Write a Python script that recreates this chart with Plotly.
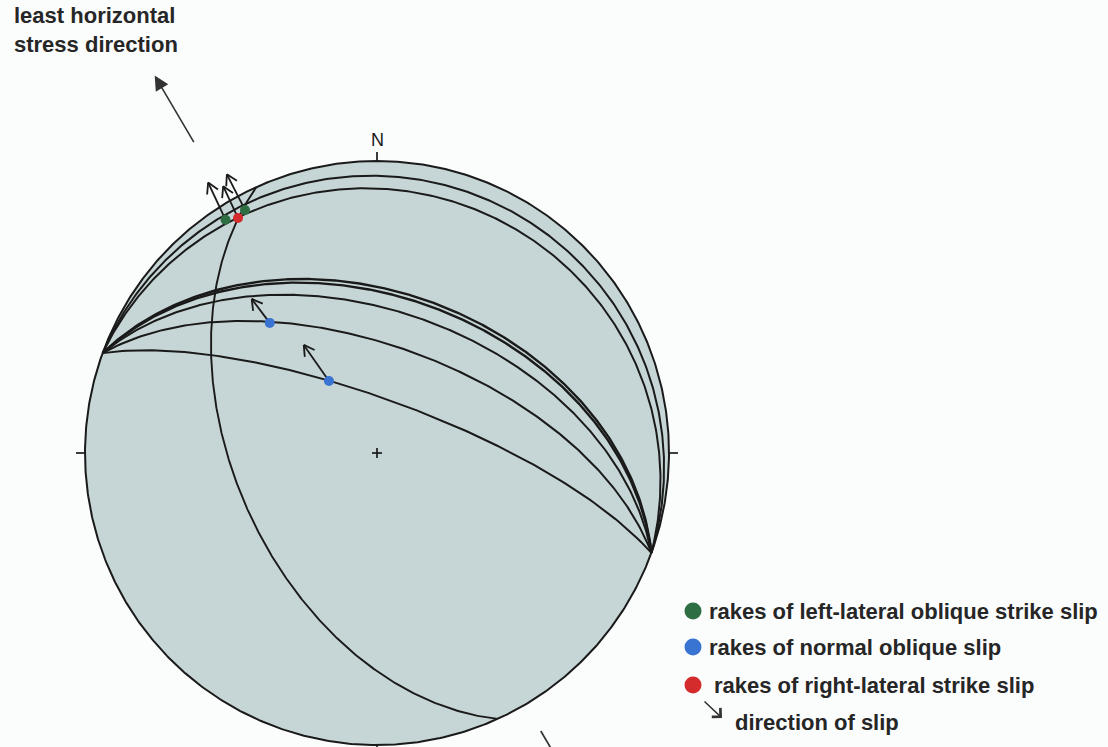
import numpy as np
import plotly.graph_objects as go

# ---------------- data ----------------
# great circles of fault planes (dip direction, dip) - equal-area, lower hemisphere
plane_dipdir = [20, 20, 20, 20, 20, 20, 20, 245.6]
plane_dip = [6, 11, 44.3, 45.6, 50, 60, 75, 50]

# rakes (trend / plunge of slip lineations)
rake_kind = ["left", "left", "right", "normal", "normal"]
rake_trend = [327.0, 331.5, 329.4, 320.5, 326.3]
rake_plunge = [5.3, 5.9, 7.2, 41.8, 65.8]
# slip direction (map azimuth of the arrow drawn from each rake)
slip_azimuth = [335, 333, 335, 323, 325]

# least horizontal stress direction (azimuth)
stress_azimuth = 329.5

legend_labels = [
    "rakes of left-lateral oblique strike slip",
    "rakes of normal oblique slip",
    "rakes of right-lateral strike slip",
    "direction of slip",
]

# ---------------- styling / geometry ----------------
W, H = 1108, 747
CX, CY, R = 377.0, 453.0, 292.0
NET_FILL = "#c6d5d5"
INK = "#1a1a1a"
TXT = "#262626"
COLORS = {"left": "#2d6e42", "normal": "#3a74d2", "right": "#d42c2c"}
slip_len = [41, 40, 35, 30, 44]


def proj(trend, plunge):
    t = np.radians(np.asarray(trend, dtype=float))
    p = np.radians(np.asarray(plunge, dtype=float))
    r = np.sqrt(2.0) * np.sin((np.pi / 2 - p) / 2.0)
    return CX + R * r * np.sin(t), CY - R * r * np.cos(t)


def polar_px(az, rr):
    a = np.radians(az)
    return CX + R * rr * np.sin(a), CY - R * rr * np.cos(a)


fig = go.Figure()

# primitive circle (filled net)
tt = np.linspace(0, 360, 721)
px, py = proj(tt, np.zeros_like(tt))
fig.add_trace(go.Scatter(x=px, y=py, mode="lines", fill="toself",
                         fillcolor=NET_FILL, line=dict(color=INK, width=2),
                         hoverinfo="skip", showlegend=False))

# great circles
widths = [2.0, 2.0, 2.4, 2.4, 2.0, 2.0, 2.0, 1.9]
for dd, dip, w in zip(plane_dipdir, plane_dip, widths):
    t = np.linspace(dd - 90, dd + 90, 400)
    p = np.degrees(np.arctan(np.tan(np.radians(dip)) * np.cos(np.radians(t - dd))))
    gx, gy = proj(t, p)
    fig.add_trace(go.Scatter(x=gx, y=gy, mode="lines", line=dict(color=INK, width=w),
                             hoverinfo="skip", showlegend=False))

# ticks at N, E, S, W
tx, ty = [], []
for az in [0, 90, 180, 270]:
    x0, y0 = polar_px(az, 1.0)
    x1, y1 = polar_px(az, 1.0 + 9 / R)
    tx += [x0, x1, None]
    ty += [y0, y1, None]
# centre cross
tx += [CX - 5, CX + 5, None, CX, CX, None]
ty += [CY, CY, None, CY - 5, CY + 5, None]
fig.add_trace(go.Scatter(x=tx, y=ty, mode="lines", line=dict(color=INK, width=1.7),
                         hoverinfo="skip", showlegend=False))

# slip arrows (open heads)
ax_, ay_ = [], []
rx, ry = proj(rake_trend, rake_plunge)
for x0, y0, az, L in zip(rx, ry, slip_azimuth, slip_len):
    a = np.radians(az)
    dx, dy = np.sin(a), -np.cos(a)
    x1, y1 = x0 + L * dx, y0 + L * dy
    ax_ += [x0, x1, None]
    ay_ += [y0, y1, None]
    for s in (-1, 1):
        b = a + np.pi + s * np.radians(30)
        ax_ += [x1, x1 + 12 * np.sin(b), None]
        ay_ += [y1, y1 - 12 * np.cos(b), None]
fig.add_trace(go.Scatter(x=ax_, y=ay_, mode="lines", line=dict(color=INK, width=1.8),
                         hoverinfo="skip", showlegend=False))

# rake points
for kind in ["left", "right", "normal"]:
    idx = [i for i, k in enumerate(rake_kind) if k == kind]
    fig.add_trace(go.Scatter(x=rx[idx], y=ry[idx], mode="markers",
                             marker=dict(size=10, color=COLORS[kind],
                                         line=dict(width=0)),
                             hoverinfo="skip", showlegend=False))

# stress direction: arrow at NW and a tail segment at SE
sx0, sy0 = polar_px(stress_azimuth, 1.23)
sx1, sy1 = polar_px(stress_azimuth, 1.50)
bx0, by0 = polar_px(stress_azimuth + 180, 1.105)
bx1, by1 = polar_px(stress_azimuth + 180, 1.25)
fig.add_trace(go.Scatter(x=[bx0, bx1], y=[by0, by1], mode="lines",
                         line=dict(color="#333333", width=1.7),
                         hoverinfo="skip", showlegend=False))

annotations = [
    dict(x=sx1, y=sy1, ax=sx0, ay=sy0, xref="x", yref="y", axref="x", ayref="y",
         showarrow=True, arrowhead=2, arrowsize=1.8, arrowwidth=1.6,
         arrowcolor="#333333", text=""),
    dict(x=12, y=30, xref="x", yref="y", text="least horizontal<br>stress direction",
         showarrow=False, xanchor="left", yanchor="middle", align="left",
         font=dict(family="Liberation Sans, Arial", size=22, color=TXT, weight="bold")),
    dict(x=CX, y=140, xref="x", yref="y", text="N", showarrow=False,
         xanchor="center", yanchor="middle",
         font=dict(family="Liberation Sans, Arial", size=18, color=INK)),
]

# legend (drawn manually)
leg_y = [611, 647, 685, 722]
leg_x_text = [707, 707, 712, 733]
leg_colors = [COLORS["left"], COLORS["normal"], COLORS["right"]]
fig.add_trace(go.Scatter(x=[693, 693, 693], y=leg_y[:3], mode="markers",
                         marker=dict(size=17, color=leg_colors,
                                     line=dict(width=0)),
                         hoverinfo="skip", showlegend=False))
for lab, xx, yy in zip(legend_labels, leg_x_text, leg_y):
    annotations.append(dict(x=xx, y=yy, xref="x", yref="y", text=lab, showarrow=False,
                            xanchor="left", yanchor="middle",
                            font=dict(family="Liberation Sans, Arial", size=22,
                                      color=TXT, weight="bold")))
# legend arrow ("direction of slip")
annotations.append(dict(x=722, y=718, ax=703, ay=700, xref="x", yref="y",
                        axref="x", ayref="y", showarrow=True, arrowhead=4,
                        arrowsize=1.6, arrowwidth=1.5, arrowcolor="#333333", text=""))

fig.update_layout(
    width=W, height=H,
    margin=dict(l=0, r=0, t=0, b=0),
    paper_bgcolor="#fbfcfc", plot_bgcolor="#fbfcfc",
    xaxis=dict(range=[0, W], visible=False, fixedrange=True),
    yaxis=dict(range=[H, 0], visible=False, fixedrange=True),
    annotations=annotations,
    showlegend=False,
)

fig.write_html("out.html")
